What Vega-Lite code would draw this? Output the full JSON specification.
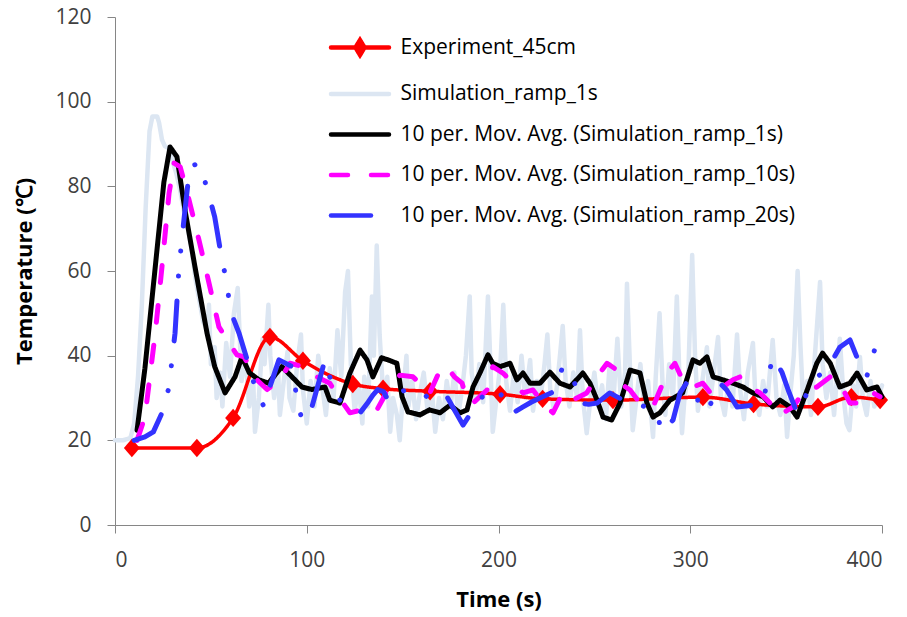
{
  "$schema": "https://vega.github.io/schema/vega-lite/v6.json",
  "autosize": {"type": "none"},
  "padding": {"left": 115, "top": 17, "right": 25, "bottom": 92},
  "width": 767,
  "height": 508,
  "background": "#ffffff",
  "config": {
    "view": {"stroke": null},
    "axis": {
      "grid": false,
      "domainColor": "#868686",
      "tickColor": "#868686",
      "labelFont": "Open Sans",
      "labelFontSize": 21,
      "labelColor": "#404040",
      "titleFont": "Open Sans",
      "titleFontSize": 22,
      "titleFontWeight": "bold",
      "titleColor": "#000000"
    }
  },
  "datasets": {
    "exp": [
      {"t": 8.8, "v": 18.2}, {"t": 42.7, "v": 18.2}, {"t": 61.6, "v": 25.3}, {"t": 80.8, "v": 44.4},
      {"t": 98, "v": 38.8}, {"t": 124, "v": 33.3}, {"t": 139.8, "v": 32.2}, {"t": 164.3, "v": 31.6},
      {"t": 200.8, "v": 30.9}, {"t": 223, "v": 29.8}, {"t": 259.7, "v": 29.5}, {"t": 306.6, "v": 30.2},
      {"t": 333, "v": 28.6}, {"t": 366.6, "v": 27.9}, {"t": 384, "v": 30.2}, {"t": 399, "v": 29.5}
    ],
    "sim1": [
      {"t":0,"v":20},{"t":4,"v":20},{"t":8,"v":20.5},{"t":10,"v":24},{"t":12,"v":35},{"t":14,"v":52},{"t":16,"v":75},{"t":18,"v":93},{"t":19.5,"v":96.5},{"t":22,"v":96.5},{"t":23,"v":95},{"t":24.5,"v":91},{"t":26,"v":89.5},{"t":28,"v":89},{"t":30,"v":86},{"t":32,"v":83},{"t":34,"v":79},{"t":36,"v":74},{"t":38,"v":70},{"t":40,"v":65},{"t":42,"v":58},{"t":44,"v":53},{"t":46,"v":48},{"t":48,"v":46},{"t":49,"v":52},{"t":50,"v":38},{"t":52,"v":42},{"t":53,"v":30},{"t":55,"v":36},{"t":56,"v":28},{"t":58,"v":43},{"t":60,"v":35},{"t":62,"v":50},{"t":64,"v":56},{"t":65,"v":45},{"t":66,"v":34},{"t":68,"v":40},{"t":70,"v":28},{"t":72,"v":35},{"t":73,"v":22},{"t":75,"v":30},{"t":77,"v":44},{"t":78,"v":38},{"t":80,"v":52},{"t":81,"v":40},{"t":83,"v":30},{"t":85,"v":37},{"t":86,"v":26},{"t":88,"v":34},{"t":90,"v":41},{"t":91,"v":30},{"t":93,"v":27},{"t":95,"v":38},{"t":97,"v":45},{"t":98,"v":32},{"t":100,"v":24},{"t":102,"v":34},{"t":104,"v":28},{"t":106,"v":40},{"t":108,"v":33},{"t":110,"v":26},{"t":112,"v":37},{"t":114,"v":30},{"t":116,"v":46},{"t":118,"v":35},{"t":120,"v":55},{"t":121.5,"v":60},{"t":123,"v":38},{"t":125,"v":27},{"t":127,"v":33},{"t":129,"v":24},{"t":130,"v":35},{"t":132,"v":28},{"t":134,"v":54},{"t":135,"v":40},{"t":136.5,"v":66},{"t":138,"v":45},{"t":140,"v":30},{"t":142,"v":35},{"t":143.5,"v":22},{"t":145,"v":30},{"t":147,"v":26},{"t":148.5,"v":20},{"t":150,"v":30},{"t":152,"v":40},{"t":153,"v":28},{"t":155,"v":34},{"t":157,"v":25},{"t":159,"v":31},{"t":161,"v":36},{"t":163,"v":27},{"t":165,"v":33},{"t":167,"v":22},{"t":169,"v":30},{"t":171,"v":25},{"t":173,"v":34},{"t":175,"v":28},{"t":177,"v":36},{"t":179,"v":26},{"t":181,"v":32},{"t":183,"v":40},{"t":185,"v":54},{"t":186,"v":36},{"t":188,"v":30},{"t":190,"v":38},{"t":192,"v":29},{"t":194.5,"v":54},{"t":196,"v":35},{"t":197,"v":22},{"t":199,"v":30},{"t":201,"v":38},{"t":202.5,"v":52},{"t":204,"v":34},{"t":206,"v":27},{"t":208,"v":36},{"t":210,"v":29},{"t":212,"v":40},{"t":214,"v":30},{"t":216.5,"v":39},{"t":218,"v":27},{"t":220,"v":34},{"t":222,"v":30},{"t":224,"v":38},{"t":225.5,"v":45},{"t":227,"v":32},{"t":229,"v":27},{"t":231,"v":35},{"t":233.5,"v":47},{"t":235,"v":34},{"t":237,"v":28},{"t":239,"v":36},{"t":241,"v":30},{"t":242.5,"v":46},{"t":244,"v":30},{"t":246,"v":21.7},{"t":248,"v":30},{"t":250,"v":36},{"t":252,"v":28},{"t":254,"v":33},{"t":256,"v":25},{"t":258,"v":38},{"t":260,"v":30},{"t":262,"v":44},{"t":264,"v":28},{"t":266,"v":36},{"t":267,"v":57},{"t":268.5,"v":38},{"t":270,"v":22.4},{"t":272,"v":30},{"t":274,"v":38},{"t":276,"v":28},{"t":278,"v":34},{"t":280.6,"v":20.8},{"t":282,"v":35},{"t":284,"v":50},{"t":285.5,"v":34},{"t":287,"v":26},{"t":289,"v":38},{"t":291,"v":30},{"t":293,"v":54},{"t":294.5,"v":33},{"t":295.7,"v":21.7},{"t":297,"v":30},{"t":299,"v":36},{"t":301,"v":63.8},{"t":302.5,"v":40},{"t":304,"v":27},{"t":306,"v":33},{"t":308.7,"v":42},{"t":310,"v":28},{"t":312,"v":35},{"t":314.5,"v":44.4},{"t":316,"v":30},{"t":318,"v":26},{"t":320,"v":34},{"t":322,"v":28},{"t":324.4,"v":45},{"t":326,"v":32},{"t":328,"v":25},{"t":330,"v":36},{"t":332.7,"v":43},{"t":334,"v":30},{"t":336,"v":26},{"t":338,"v":34},{"t":340,"v":28},{"t":343,"v":43.7},{"t":345,"v":30},{"t":347,"v":26},{"t":349,"v":33},{"t":350.5,"v":20.8},{"t":352,"v":30},{"t":354,"v":40},{"t":356,"v":60},{"t":357.5,"v":42},{"t":359,"v":28},{"t":361,"v":34},{"t":363,"v":26},{"t":365,"v":40},{"t":367.7,"v":57.4},{"t":369,"v":38},{"t":371,"v":30},{"t":373,"v":36},{"t":375,"v":26},{"t":378,"v":44},{"t":380,"v":30},{"t":381.5,"v":24},{"t":383,"v":22.4},{"t":385,"v":33},{"t":386.5,"v":28},{"t":388.5,"v":39.7},{"t":390,"v":30},{"t":392,"v":26},{"t":394,"v":34},{"t":396,"v":28},{"t":398,"v":30},{"t":400,"v":33}
    ],
    "ma1": [
      {"t":11.5,"v":22.4},{"t":15.6,"v":37},{"t":21,"v":61},{"t":25.5,"v":81},{"t":28.7,"v":89.3},{"t":32.3,"v":87},{"t":36.5,"v":74.4},{"t":41.7,"v":61},{"t":48,"v":45.3},{"t":52,"v":37.4},{"t":57.4,"v":31.2},{"t":62.6,"v":35},{"t":66.2,"v":39.7},{"t":70,"v":36},{"t":75,"v":34.3},{"t":80,"v":33.5},{"t":87,"v":37.4},{"t":92.3,"v":35},{"t":97.5,"v":32.6},{"t":102.7,"v":32},{"t":109.5,"v":32.6},{"t":112,"v":29.5},{"t":117.3,"v":28.8},{"t":122.5,"v":35.9},{"t":127.8,"v":41.3},{"t":131.4,"v":39},{"t":134.5,"v":35},{"t":139,"v":39.5},{"t":142.4,"v":39},{"t":147,"v":38.2},{"t":149.7,"v":30.3},{"t":152.8,"v":26.7},{"t":159,"v":26},{"t":164,"v":27.2},{"t":169.5,"v":26.5},{"t":174.7,"v":28.3},{"t":180,"v":26.5},{"t":183.6,"v":27.2},{"t":186.7,"v":32.6},{"t":190.3,"v":35.9},{"t":194.5,"v":40.2},{"t":197,"v":38.2},{"t":200.8,"v":37.4},{"t":206,"v":38.2},{"t":209.6,"v":34.3},{"t":212.8,"v":35.9},{"t":216.4,"v":33.5},{"t":221.6,"v":33.5},{"t":226.8,"v":36.1},{"t":232,"v":33.5},{"t":237.3,"v":32.6},{"t":244,"v":35.9},{"t":247.7,"v":33.5},{"t":251.4,"v":29.5},{"t":254.5,"v":25.5},{"t":259,"v":24.8},{"t":263.4,"v":28.8},{"t":268.6,"v":36.6},{"t":273.8,"v":35.9},{"t":277.4,"v":28.8},{"t":280.6,"v":25.5},{"t":284.2,"v":26.5},{"t":289.4,"v":29.5},{"t":296,"v":31.2},{"t":301.4,"v":39},{"t":305,"v":38.2},{"t":308.7,"v":39.7},{"t":311.9,"v":35},{"t":317,"v":34.3},{"t":322.3,"v":33.5},{"t":327.5,"v":32.6},{"t":332.7,"v":31.2},{"t":338,"v":30.3},{"t":343,"v":27.9},{"t":346.8,"v":29.5},{"t":352,"v":27.9},{"t":355.7,"v":25.5},{"t":361,"v":31.9},{"t":366,"v":38.2},{"t":369,"v":40.6},{"t":373,"v":38.2},{"t":378,"v":32.6},{"t":383.3,"v":33.5},{"t":387,"v":35.9},{"t":392,"v":31.9},{"t":397.4,"v":32.6},{"t":400,"v":30.3}
    ],
    "ma10": [
      {"t":11.5,"v":20},{"t":15.6,"v":25.5},{"t":21,"v":45.3},{"t":24.5,"v":61},{"t":28.2,"v":78.4},{"t":30.8,"v":85.5},{"t":34,"v":84.6},{"t":38.6,"v":76.8},{"t":43.8,"v":67.3},{"t":49,"v":57.2},{"t":54.2,"v":46.8},{"t":59.5,"v":43},{"t":63.6,"v":40.2},{"t":67.3,"v":39.7},{"t":74,"v":34.3},{"t":79.3,"v":32},{"t":86,"v":34.3},{"t":91.3,"v":38.2},{"t":98,"v":37.4},{"t":105.3,"v":35},{"t":112,"v":33.5},{"t":117,"v":30},{"t":122.5,"v":26.5},{"t":127,"v":27},{"t":131,"v":28},{"t":136.6,"v":27.2},{"t":140,"v":30},{"t":143,"v":33},{"t":148.6,"v":35.4},{"t":155.4,"v":35},{"t":160,"v":33},{"t":164,"v":31},{"t":169.5,"v":36.6},{"t":173,"v":37.4},{"t":177,"v":35},{"t":181,"v":33.5},{"t":183.6,"v":29.5},{"t":186.7,"v":28.8},{"t":194,"v":31.9},{"t":197,"v":37.4},{"t":202.3,"v":35.9},{"t":207.6,"v":33.5},{"t":212.8,"v":31.2},{"t":218,"v":31.9},{"t":223.2,"v":28.8},{"t":228.4,"v":26.5},{"t":233.6,"v":31.2},{"t":238.8,"v":29.5},{"t":246,"v":31.2},{"t":251.4,"v":35},{"t":256.6,"v":38.2},{"t":261.8,"v":36.6},{"t":263.4,"v":33.5},{"t":268.6,"v":31.9},{"t":273.8,"v":28.8},{"t":280.6,"v":27.9},{"t":287.9,"v":35.9},{"t":292,"v":38.2},{"t":296,"v":34.3},{"t":301.4,"v":32.6},{"t":306.6,"v":33.5},{"t":312,"v":30.3},{"t":317,"v":32.6},{"t":322.3,"v":34.3},{"t":326,"v":35},{"t":331,"v":32.6},{"t":336.4,"v":31.2},{"t":341.6,"v":28.8},{"t":346.8,"v":26},{"t":353.6,"v":27.9},{"t":358.8,"v":31.2},{"t":366,"v":32.6},{"t":373,"v":35},{"t":378,"v":33.5},{"t":383.3,"v":28.8},{"t":390,"v":28.8},{"t":395.3,"v":31.2},{"t":399,"v":30.3}
    ],
    "ma20": [
      {"t":10,"v":20},{"t":15.6,"v":20.8},{"t":20,"v":22},{"t":24.5,"v":26.5},{"t":28.2,"v":32.6},{"t":29.7,"v":39},{"t":31.3,"v":45.3},{"t":33.4,"v":61},{"t":35,"v":68},{"t":36.5,"v":74.4},{"t":39,"v":84.6},{"t":43.8,"v":85.5},{"t":48,"v":79.6},{"t":52,"v":72.8},{"t":55.8,"v":62.6},{"t":58.4,"v":57.2},{"t":60,"v":50.8},{"t":64.7,"v":45.3},{"t":70,"v":37.4},{"t":73,"v":32.6},{"t":77.7,"v":27.9},{"t":80.3,"v":32},{"t":85.5,"v":39},{"t":92.3,"v":37.4},{"t":95,"v":29.5},{"t":97.5,"v":24.8},{"t":101,"v":25.5},{"t":102.7,"v":27.9},{"t":109.5,"v":39},{"t":112,"v":35},{"t":117.3,"v":29.5},{"t":122,"v":28},{"t":127.8,"v":26.5},{"t":132,"v":29},{"t":134.5,"v":30.7},{"t":137,"v":32},{"t":140,"v":31.5},{"t":143,"v":29},{"t":147,"v":31},{"t":152,"v":32},{"t":158,"v":31.9},{"t":162.7,"v":30.3},{"t":167,"v":31},{"t":172,"v":31.2},{"t":176,"v":28},{"t":181.5,"v":23.6},{"t":185,"v":26},{"t":188.8,"v":28.8},{"t":193,"v":31},{"t":197,"v":32.4},{"t":201,"v":31},{"t":207.6,"v":26.5},{"t":212.8,"v":27.9},{"t":217,"v":29},{"t":221.6,"v":30},{"t":228.4,"v":31.4},{"t":233.6,"v":37.4},{"t":238.8,"v":35},{"t":242.5,"v":28.8},{"t":247,"v":28.5},{"t":251.4,"v":28.8},{"t":258,"v":31.2},{"t":265,"v":29.5},{"t":270,"v":29},{"t":276,"v":28},{"t":282.7,"v":26.5},{"t":285,"v":22},{"t":291,"v":24.8},{"t":294.7,"v":31.2},{"t":298,"v":33.5},{"t":303.5,"v":32.6},{"t":304,"v":28.8},{"t":308.7,"v":26.7},{"t":315.5,"v":33.5},{"t":319,"v":31.9},{"t":324.4,"v":27.9},{"t":332.7,"v":28.3},{"t":338,"v":28.8},{"t":340.5,"v":35},{"t":343.2,"v":39.7},{"t":347.8,"v":36.1},{"t":351,"v":32},{"t":355.7,"v":26.5},{"t":361,"v":31.2},{"t":366,"v":35},{"t":371.3,"v":36.6},{"t":378,"v":42},{"t":383.3,"v":43.7},{"t":387.5,"v":39},{"t":392,"v":35},{"t":396.4,"v":41.8},{"t":400,"v":38}
    ]
  },
  "encoding": {
    "x": {"field": "t", "type": "quantitative", "scale": {"domain": [0, 400], "nice": false},
      "axis": {"values": [0, 100, 200, 300, 400], "tickSize": 8, "labelPadding": 16, "title": "Time (s)", "titlePadding": 19}},
    "y": {"field": "v", "type": "quantitative", "scale": {"domain": [0, 120], "nice": false},
      "axis": {"values": [0, 20, 40, 60, 80, 100, 120], "tickSize": 8, "labelPadding": 16, "title": "Temperature (℃)", "titlePadding": 18}}
  },
  "layer": [
    {
      "data": {"name": "sim1"},
      "mark": {"type": "line", "strokeWidth": 4.5, "strokeCap": "round", "strokeJoin": "round"},
      "encoding": {
        "color": {"datum": "Simulation_ramp_1s", "type": "nominal",
          "scale": {"domain": ["Experiment_45cm", "Simulation_ramp_1s", "10 per. Mov. Avg. (Simulation_ramp_1s)", "10 per. Mov. Avg. (Simulation_ramp_10s)", "10 per. Mov. Avg. (Simulation_ramp_20s)"],
            "range": ["#ff0000", "#dce6f2", "#000000", "#ff00ff", "#3333ff"]},
          "legend": {
            "title": null, "orient": "none", "legendX": 215, "legendY": 18, "padding": 0,
            "symbolType": "M-2.9,0H2.9", "symbolSize": 400, "symbolStrokeWidth": 4.5,
            "symbolOffset": 17.5, "labelOffset": 28,
            "labelFont": "Open Sans", "labelFontSize": 21, "labelColor": "#000000", "labelLimit": 700,
            "rowPadding": 17.5,
            "encode": {"symbols": {"update": {
              "shape": {"signal": "datum.value === 'Experiment_45cm' ? 'M-2.9,0H2.9M0,-0.75L0.45,0L0,0.75L-0.45,0Z' : 'M-2.9,0H2.9'"},
              "fill": {"signal": "datum.value === 'Experiment_45cm' ? '#ff0000' : 'transparent'"},
              "strokeCap": {"value": "round"}
            }}}
          }},
        "strokeDash": {"datum": "Simulation_ramp_1s", "type": "nominal",
          "scale": {"domain": ["Experiment_45cm", "Simulation_ramp_1s", "10 per. Mov. Avg. (Simulation_ramp_1s)", "10 per. Mov. Avg. (Simulation_ramp_10s)", "10 per. Mov. Avg. (Simulation_ramp_20s)"],
            "range": [[1, 0], [1, 0], [1, 0], [17, 23], [40, 25, 0.1, 25, 0.1, 25]]}}
      }
    },
    {
      "data": {"name": "exp"},
      "mark": {"type": "line", "strokeWidth": 3.5, "interpolate": "monotone", "strokeCap": "round"},
      "encoding": {
        "color": {"datum": "Experiment_45cm", "type": "nominal"},
        "strokeDash": {"datum": "Experiment_45cm", "type": "nominal"}
      }
    },
    {
      "data": {"name": "exp"},
      "mark": {"type": "point", "shape": "M0,-1.15L1,0L0,1.15L-1,0Z", "size": 256, "filled": true, "opacity": 1, "color": "#ff0000"}
    },
    {
      "data": {"name": "ma1"},
      "mark": {"type": "line", "strokeWidth": 5, "strokeCap": "round", "strokeJoin": "round"},
      "encoding": {
        "color": {"datum": "10 per. Mov. Avg. (Simulation_ramp_1s)", "type": "nominal"},
        "strokeDash": {"datum": "10 per. Mov. Avg. (Simulation_ramp_1s)", "type": "nominal"}
      }
    },
    {
      "data": {"name": "ma10"},
      "mark": {"type": "line", "strokeWidth": 5, "strokeCap": "round", "strokeJoin": "round"},
      "encoding": {
        "color": {"datum": "10 per. Mov. Avg. (Simulation_ramp_10s)", "type": "nominal"},
        "strokeDash": {"datum": "10 per. Mov. Avg. (Simulation_ramp_10s)", "type": "nominal"}
      }
    },
    {
      "data": {"name": "ma20"},
      "mark": {"type": "line", "strokeWidth": 5, "strokeCap": "round", "strokeJoin": "round"},
      "encoding": {
        "color": {"datum": "10 per. Mov. Avg. (Simulation_ramp_20s)", "type": "nominal"},
        "strokeDash": {"datum": "10 per. Mov. Avg. (Simulation_ramp_20s)", "type": "nominal"}
      }
    }
  ]
}
